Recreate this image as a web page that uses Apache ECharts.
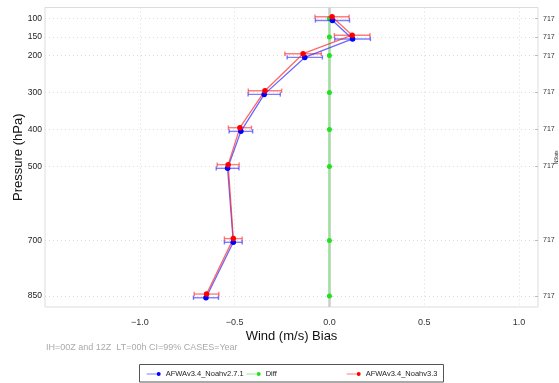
<!DOCTYPE html>
<html>
<head>
<meta charset="utf-8">
<script src="https://cdn.jsdelivr.net/npm/echarts@6/dist/echarts.min.js"></script>
<style>
  html, body { margin: 0; padding: 0; background: #fff; }
  #chart { width: 559px; height: 383px; }
</style>
</head>
<body>
<div id="chart"></div>
<script>
// Vertical profile of wind bias with 99% confidence intervals
const pressureLevels = [100, 150, 200, 300, 400, 500, 700, 850];
const xTicks = [-1.0, -0.5, 0.0, 0.5, 1.0];

const noah271Bias = [0.016, 0.122, -0.130, -0.344, -0.467, -0.537, -0.507, -0.651];
const noah271CI   = [0.090, 0.094, 0.093, 0.085, 0.062, 0.060, 0.047, 0.066];

const noah33Bias  = [0.014, 0.120, -0.139, -0.340, -0.472, -0.534, -0.507, -0.648];
const noah33CI    = [0.090, 0.094, 0.096, 0.088, 0.061, 0.058, 0.047, 0.065];

const diffBias    = [0, 0, 0, 0, 0, 0, 0, 0];

const nStats      = [717, 717, 717, 717, 717, 717, 717, 717];

const NAME_A = 'AFWAv3.4_Noahv2.7.1';
const NAME_D = 'Diff';
const NAME_B = 'AFWAv3.4_Noahv3.3';

// small vertical dodge (hPa) so the two models do not overlap
const dodgeA = 5, dodgeB = -5;

const FONT = '"Liberation Sans", Arial, Helvetica, sans-serif';

function points(bias, dodge) {
  return pressureLevels.map((p, i) => [bias[i], p + dodge]);
}
function ciRows(bias, ci, dodge) {
  return pressureLevels.map((p, i) => [bias[i] - ci[i], bias[i] + ci[i], p + dodge]);
}
function errorBar(color) {
  return function (params, api) {
    const p = api.value(2);
    const a = api.coord([api.value(0), p]);
    const b = api.coord([api.value(1), p]);
    const h = 2.2;
    const st = { stroke: color, lineWidth: 1.4 };
    return {
      type: 'group',
      children: [
        { type: 'line', shape: { x1: a[0], y1: a[1], x2: b[0], y2: b[1] }, style: st },
        { type: 'line', shape: { x1: a[0], y1: a[1] - h, x2: a[0], y2: a[1] + h }, style: st },
        { type: 'line', shape: { x1: b[0], y1: b[1] - h, x2: b[0], y2: b[1] + h }, style: st }
      ]
    };
  };
}
function fmtX(v) {
  const s = Math.abs(v).toFixed(1);
  return v < 0 ? '\u2212' + s : s;
}

const legendIcon = 'path://M0,3.4 L20,3.4 L20,4.6 L0,4.6 Z M20,4 A4,4 0 1 1 28,4 A4,4 0 1 1 20,4 Z';
const legendText = { fontFamily: FONT, fontSize: 7.5, color: '#222' };

const chart = echarts.init(document.getElementById('chart'), null, { renderer: 'canvas' });

chart.setOption({
  animation: false,
  backgroundColor: '#fff',
  grid: {
    left: 45, right: 21, top: 7.5, bottom: 76,
    outerBoundsMode: 'none', containLabel: false,
    show: true, borderColor: '#ddd', borderWidth: 1, backgroundColor: 'transparent'
  },
  xAxis: {
    type: 'value', min: -1.5, max: 1.1,
    name: 'Wind (m/s) Bias', nameLocation: 'middle', nameGap: 23, nameMoveOverlap: false,
    nameTextStyle: { fontFamily: FONT, fontSize: 13, color: '#111' },
    axisLine: { show: false },
    axisTick: { show: false, customValues: xTicks },
    axisLabel: { customValues: xTicks, formatter: fmtX, fontFamily: FONT, fontSize: 9, color: '#333', margin: 11 },
    splitLine: { show: true, lineStyle: { color: '#ddd', type: [1, 3], width: 1 } }
  },
  yAxis: [
    {
      type: 'value', inverse: true, min: 70, max: 880,
      name: 'Pressure (hPa)', nameLocation: 'middle', nameGap: 20, nameMoveOverlap: false,
      nameTextStyle: { fontFamily: FONT, fontSize: 13, color: '#111' },
      axisLine: { show: false },
      axisTick: { show: true, inside: true, length: 3, customValues: pressureLevels, lineStyle: { color: '#bbb' } },
      axisLabel: { customValues: pressureLevels, fontFamily: FONT, fontSize: 8.5, color: '#222', margin: 3 },
      splitLine: { show: true, lineStyle: { color: '#ddd', type: [1, 3], width: 1 } }
    },
    {
      type: 'value', inverse: true, min: 70, max: 880, position: 'right',
      name: 'NStats', nameLocation: 'middle', nameGap: 16, nameMoveOverlap: false,
      nameTextStyle: { fontFamily: FONT, fontSize: 4.5, color: '#333' },
      axisLine: { show: false },
      axisTick: { show: true, inside: true, length: 3, customValues: pressureLevels, lineStyle: { color: '#bbb' } },
      axisLabel: {
        customValues: pressureLevels,
        formatter: v => String(nStats[pressureLevels.indexOf(v)]),
        fontFamily: FONT, fontSize: 7, color: '#333', margin: 5
      },
      splitLine: { show: false }
    }
  ],
  legend: [
    { data: [NAME_A], left: 146.7, top: 370, padding: 0, itemWidth: 14, itemHeight: 4, itemGap: 0, icon: legendIcon, textStyle: legendText },
    { data: [NAME_D], left: 246.7, top: 370, padding: 0, itemWidth: 14, itemHeight: 4, itemGap: 0, icon: legendIcon, textStyle: legendText },
    { data: [NAME_B], left: 346.7, top: 370, padding: 0, itemWidth: 14, itemHeight: 4, itemGap: 0, icon: legendIcon, textStyle: legendText }
  ],
  graphic: [
    {
      type: 'rect',
      shape: { x: 139.5, y: 364.5, width: 304, height: 17.5 },
      style: { fill: 'none', stroke: '#555', lineWidth: 1 }, silent: true
    },
    {
      type: 'text', left: 46, top: 343,
      style: { text: 'IH=00Z and 12Z  LT=00h CI=99% CASES=Year', fill: '#aaa', font: '9px ' + FONT }
    }
  ],
  series: [
    {
      name: NAME_D, type: 'line',
      data: points(diffBias, 0),
      symbol: 'circle', symbolSize: 5,
      itemStyle: { color: '#22e022' },
      lineStyle: { color: '#9be29b', width: 2 },
      z: 3,
      markLine: {
        silent: true, symbol: 'none', label: { show: false },
        lineStyle: { color: '#ccc', width: 2.5, type: 'solid' },
        data: [{ xAxis: 0 }],
        z: 1
      }
    },
    {
      name: 'ci-a', type: 'custom',
      data: ciRows(noah271Bias, noah271CI, dodgeA),
      encode: { x: [0, 1], y: 2 },
      renderItem: errorBar('rgba(40,40,255,0.6)'),
      z: 4
    },
    {
      name: 'ci-b', type: 'custom',
      data: ciRows(noah33Bias, noah33CI, dodgeB),
      encode: { x: [0, 1], y: 2 },
      renderItem: errorBar('rgba(255,40,40,0.6)'),
      z: 4
    },
    {
      name: NAME_A, type: 'line',
      data: points(noah271Bias, dodgeA),
      symbol: 'circle', symbolSize: 5.5,
      itemStyle: { color: '#0000ff' },
      lineStyle: { color: 'rgba(40,40,255,0.7)', width: 1.3 },
      z: 5
    },
    {
      name: NAME_B, type: 'line',
      data: points(noah33Bias, dodgeB),
      symbol: 'circle', symbolSize: 5.5,
      itemStyle: { color: '#ff0000' },
      lineStyle: { color: 'rgba(255,40,40,0.7)', width: 1.3 },
      z: 5
    }
  ]
});
</script>
</body>
</html>
